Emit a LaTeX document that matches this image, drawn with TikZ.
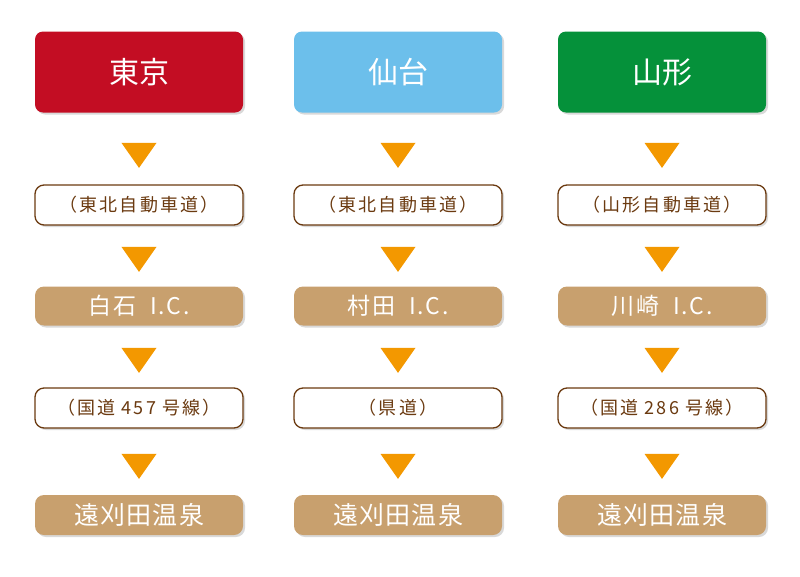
\documentclass[tikz,border=0pt]{standalone}
\usepackage{fontspec}
\setmainfont{Noto Sans CJK JP}
\usetikzlibrary{positioning,shapes.geometric,shadows}
\definecolor{tokyo}{HTML}{C30D23}
\definecolor{sendai}{HTML}{6CBFEB}
\definecolor{yamagata}{HTML}{05913A}
\definecolor{tan}{HTML}{C8A06E}
\definecolor{brownline}{HTML}{6B3A10}
\definecolor{arrowor}{HTML}{F39800}

\begin{document}
\begin{tikzpicture}[x=1pt,y=-1pt,
	header/.style={rounded corners=8pt, minimum width=208pt, minimum height=81pt, text=white, font=\fontsize{30}{32}\selectfont, drop shadow={opacity=0.3,shadow xshift=2pt,shadow yshift=-2pt}},
	routebox/.style={draw=brownline, line width=1.3pt, fill=white, rounded corners=9pt, minimum width=208pt, minimum height=40pt, text=brownline, font=\fontsize{18}{20}\selectfont\addfontfeatures{LetterSpace=12}, drop shadow={opacity=0.3,shadow xshift=2pt,shadow yshift=-2pt}},
	icbox/.style={fill=tan, rounded corners=9pt, minimum width=208pt, minimum height=39pt, text=white, font=\fontsize{23}{25}\selectfont\addfontfeatures{LetterSpace=8}, drop shadow={opacity=0.3,shadow xshift=2pt,shadow yshift=-2pt}},
	tri/.style={isosceles triangle, isosceles triangle apex angle=70, shape border rotate=-90, fill=arrowor, inner sep=0pt, minimum height=25pt}
	]
	\useasboundingbox (0,0) rectangle (800,576);

	\foreach \n/\x/\col/\head/\ra/\ic/\rb in {
		a/139/tokyo/東京/（東北自動車道）/白石\ \ I.C./（国道 457 号線）,
		b/398/sendai/仙台/（東北自動車道）/村田\ \ I.C./（県道）,
		c/662/yamagata/山形/（山形自動車道）/川崎\ \ I.C./（国道 286 号線）}{
		\node[header, fill=\col] (head\n) at (\x,72) {\head};
		\node[tri] (t1\n) at (\x,152) {};
		\node[routebox] (ra\n) at (\x,205) {\ra};
		\node[tri] (t2\n) at (\x,256) {};
		\node[icbox] (ic\n) at (\x,306) {\ic};
		\node[tri] (t3\n) at (\x,357) {};
		\node[routebox] (rb\n) at (\x,408) {\rb};
		\node[tri] (t4\n) at (\x,463) {};
		\node[icbox, minimum height=40pt, font=\fontsize{25}{27}\selectfont\addfontfeatures{LetterSpace=5}] (onsen\n) at (\x,515) {遠刈田温泉};
	}
\end{tikzpicture}
\end{document}
